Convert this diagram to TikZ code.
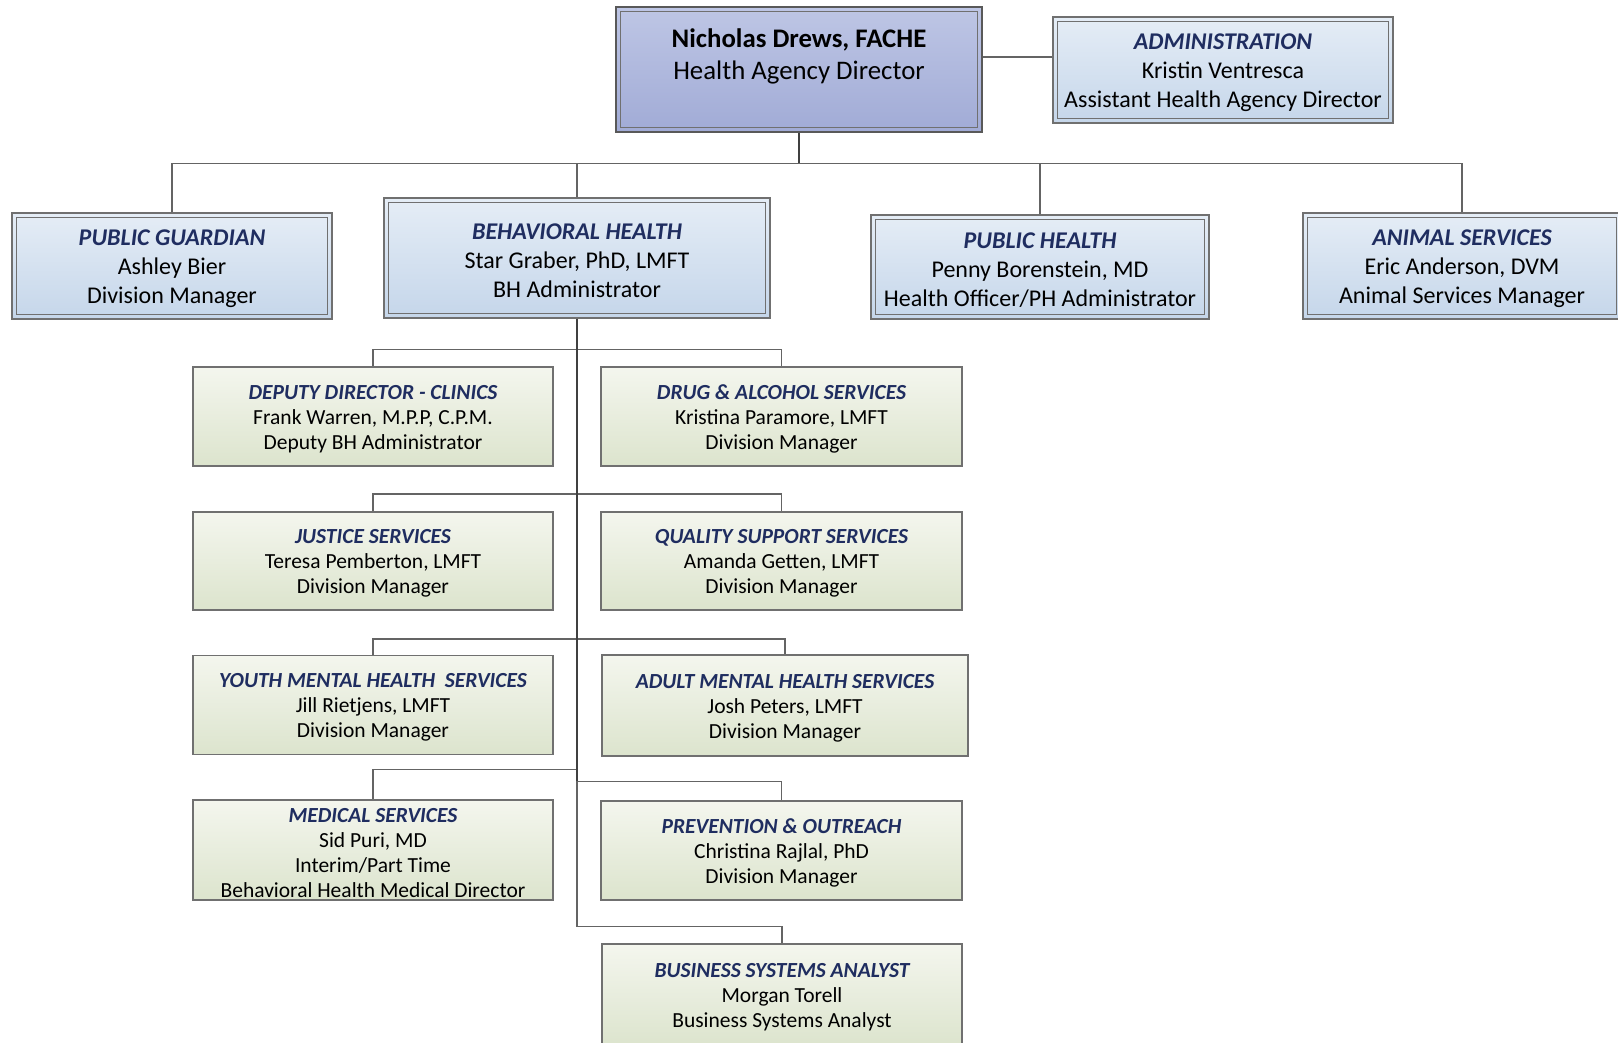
\documentclass[tikz,border=0pt]{standalone}
\usepackage{fontspec}
\setmainfont{Carlito}
\usepackage{xcolor}
\usetikzlibrary{positioning,calc}

\definecolor{dirtop}{RGB}{190,198,229}
\definecolor{dirbot}{RGB}{161,171,214}
\definecolor{bluetop}{RGB}{229,237,246}
\definecolor{bluebot}{RGB}{197,214,234}
\definecolor{greentop}{RGB}{244,246,238}
\definecolor{greenbot}{RGB}{220,228,205}
\definecolor{hdblue}{RGB}{31,45,96}
\definecolor{boxline}{RGB}{112,112,112}
\definecolor{linkgray}{RGB}{100,100,100}

% heading line, with a strut so the block sits a little lower in its box
\newcommand{\hd}[1]{\rule{0pt}{0.9em}\textcolor{hdblue}{\bfseries\itshape #1}}

\begin{document}
\begin{tikzpicture}[x=0.5pt,y=-0.5pt,
  boxsize/.style 2 args={minimum width=#1*0.5pt,minimum height=#2*0.5pt},
  box/.style={draw=boxline,line width=0.6pt,inner sep=0pt,align=center},
  inset/.style={path picture={\draw[boxline,line width=0.6pt]
      ([shift={(2.2pt,-2.2pt)}]path picture bounding box.north west) rectangle
      ([shift={(-2.2pt,2.2pt)}]path picture bounding box.south east);}},
  dirbox/.style={box,inset,draw=black!65,top color=dirtop,bottom color=dirbot,
      font=\fontsize{13.4}{16}\selectfont},
  bluebox/.style={box,inset,top color=bluetop,bottom color=bluebot,
      font=\fontsize{12}{14.5}\selectfont},
  greenbox/.style={box,top color=greentop,bottom color=greenbot,
      font=\fontsize{10.75}{12.5}\selectfont},
  link/.style={draw=linkgray,line width=0.6pt},
  spine/.style={draw=black!75,line width=1.1pt}]
  \useasboundingbox (0,0) rectangle (1618,1043);

  % agency level
  \node[dirbox,boxsize={366}{125}] (dir) at (799,69.5)
    {\rule{0pt}{1.1em}\textbf{Nicholas Drews, FACHE}\\Health Agency Director\\\strut};
  \node[bluebox,boxsize={340}{106}] (adm) at (1223,70)
    {\hd{ADMINISTRATION}\\Kristin Ventresca\\Assistant Health Agency Director};
  \node[bluebox,boxsize={320}{106}] (pg) at (172,266)
    {\hd{PUBLIC GUARDIAN}\\Ashley Bier\\Division Manager};
  \node[bluebox,boxsize={386}{120}] (bh) at (577,258)
    {\hd{BEHAVIORAL HEALTH}\\Star Graber, PhD, LMFT\\BH Administrator};
  \node[bluebox,boxsize={338}{104}] (ph) at (1040,267)
    {\hd{PUBLIC HEALTH}\\Penny Borenstein, MD\\Health Officer/PH Administrator};
  \node[bluebox,boxsize={318}{106}] (as) at (1462,266)
    {\hd{ANIMAL SERVICES}\\Eric Anderson, DVM\\Animal Services Manager};

  \draw[link] ([yshift=6.5pt]adm.west) coordinate (a1) -- (a1 -| dir.east);
  \draw[spine] (dir.south) -- ++(0,31) coordinate (bus);
  \draw[link] (pg.north) |- (bus) -| (as.north);
  \draw[link] (bh.north) -- (bh.north |- bus);
  \draw[link] (ph.north) -- (ph.north |- bus);

  % behavioral health divisions
  \foreach \nm/\x/\y/\w/\h/\ttl/\rest in {
    dd/373/416.5/360/99/{DEPUTY DIRECTOR - CLINICS}/{Frank Warren, M.P.P, C.P.M.\\Deputy BH Administrator},
    das/781.5/416.5/361/99/{DRUG \& ALCOHOL SERVICES}/{Kristina Paramore, LMFT\\Division Manager},
    js/373/561/360/98/{JUSTICE SERVICES}/{Teresa Pemberton, LMFT\\Division Manager},
    qss/781.5/561/361/98/{QUALITY SUPPORT SERVICES}/{Amanda Getten, LMFT\\Division Manager},
    ymh/373/705/360/99/{YOUTH MENTAL HEALTH~ SERVICES}/{Jill Rietjens, LMFT\\Division Manager},
    amh/785/705.5/366/101/{ADULT MENTAL HEALTH SERVICES}/{Josh Peters, LMFT\\Division Manager},
    med/373/850/360/100/{MEDICAL SERVICES}/{Sid Puri, MD\\Interim/Part Time\\Behavioral Health Medical Director},
    pro/781.5/850.5/361/99/{PREVENTION \& OUTREACH}/{Christina Rajlal, PhD\\Division Manager},
    bsa/782/995/360/102/{BUSINESS SYSTEMS ANALYST}/{Morgan Torell\\Business Systems Analyst}}
    \node[greenbox,boxsize={\w}{\h}] (\nm) at (\x,\y) {\hd{\ttl}\\\rest};

  \draw[link] (dd.north) -- ++(0,-17) -| (das.north);
  \draw[link] (js.north) -- ++(0,-17.5) -| (qss.north);
  \draw[link] (ymh.north) -- ++(0,-16) -| (amh.north);
  \draw[link] (med.north) -- ++(0,-30) coordinate (m4) -- (m4 -| bh.south);
  \draw[link] (pro.north) -- ++(0,-19) coordinate (p4) -- (p4 -| bh.south);
  \draw[link] (bsa.north) -- ++(0,-17) -| (bh.south);
  \draw[spine] (bh.south) -- (bh.south |- p4);
\end{tikzpicture}
\end{document}
